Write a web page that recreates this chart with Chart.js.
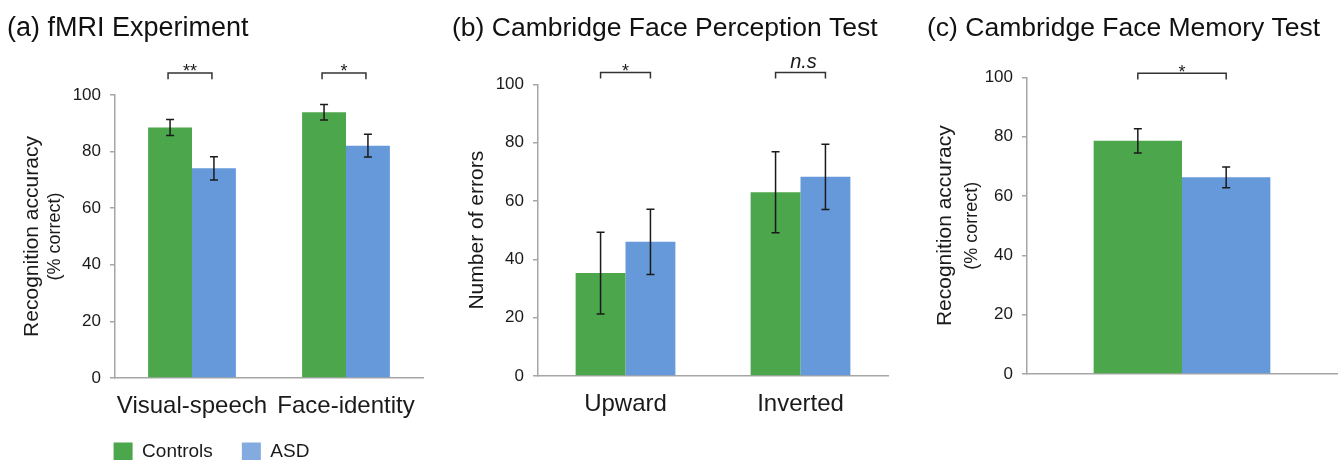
<!DOCTYPE html>
<html><head><meta charset="utf-8">
<script src="https://cdn.jsdelivr.net/npm/chart.js@4.4.1/dist/chart.umd.min.js"></script>
<style>
html,body{margin:0;padding:0;background:#fff;width:1341px;height:460px;overflow:hidden;position:relative;}
canvas{position:absolute;top:0;}
</style></head><body>
<canvas id="ca" width="440" height="480" style="left:0px"></canvas>
<canvas id="cb" width="455" height="460" style="left:445px"></canvas>
<canvas id="cc" width="436" height="460" style="left:905px"></canvas>
<script>
// ---------- data ----------
const seriesNames = ['Controls', 'ASD'];
const yTickValues = [0, 20, 40, 60, 80, 100];

const aTitle = '(a) fMRI Experiment';
const aCategories = ['Visual-speech', 'Face-identity'];
const aControls = [88.5, 93.9];
const aControlsErr = [2.8, 2.7];
const aASD = [74.1, 82.1];
const aASDErr = [4.1, 4.0];
const aSignificance = ['**', '*'];

const bTitle = '(b) Cambridge Face Perception Test';
const bCategories = ['Upward', 'Inverted'];
const bControls = [35.3, 63.0];
const bControlsErr = [14.0, 13.9];
const bASD = [46.0, 68.3];
const bASDErr = [11.2, 11.2];
const bSignificance = ['*', 'n.s'];

const cTitle = '(c) Cambridge Face Memory Test';
const cCategories = [''];
const cControls = [78.6];
const cControlsErr = [4.1];
const cASD = [66.3];
const cASDErr = [3.5];
const cSignificance = ['*'];

const accuracyTitle = 'Recognition accuracy';
const accuracyNote = '(% correct)';
const errorsTitle = 'Number of errors';

// ---------- style ----------
const FAMILY = "'Liberation Sans', Arial, Helvetica, sans-serif";
const GREEN = '#4ca64c';
const BLUE = '#6699d9';
const LEGEND_BLUE = '#84abe0';
const AXIS = '#a6a6a6';
const TEXT = '#1a1a1a';
Chart.defaults.font.family = FAMILY;
Chart.defaults.color = TEXT;

const errorBarPlugin = {
  id: 'errorBars',
  afterDatasetsDraw(chart) {
    const ctx = chart.ctx, y = chart.scales.y;
    ctx.save();
    ctx.strokeStyle = '#1a1a1a';
    ctx.lineWidth = 1.5;
    chart.data.datasets.forEach((ds, di) => {
      const meta = chart.getDatasetMeta(di);
      meta.data.forEach((bar, i) => {
        const v = ds.data[i], e = ds.errors[i];
        const yt = y.getPixelForValue(v + e), yb = y.getPixelForValue(v - e);
        const x = bar.x, hw = 4;
        ctx.beginPath();
        ctx.moveTo(x, yt); ctx.lineTo(x, yb);
        ctx.moveTo(x - hw, yt); ctx.lineTo(x + hw, yt);
        ctx.moveTo(x - hw, yb); ctx.lineTo(x + hw, yb);
        ctx.stroke();
      });
    });
    ctx.restore();
  }
};

const bracketPlugin = {
  id: 'brackets',
  afterDraw(chart, args, opts) {
    if (!opts.labels) return;
    const ctx = chart.ctx, y = chart.scales.y;
    const m0 = chart.getDatasetMeta(0), m1 = chart.getDatasetMeta(1);
    ctx.save();
    opts.labels.forEach((label, i) => {
      const x0 = m0.data[i].x + (opts.shift || 0), x1 = m1.data[i].x + (opts.shift || 0);
      const yt = y.getPixelForValue(opts.top), yl = y.getPixelForValue(opts.leg);
      ctx.strokeStyle = '#333';
      ctx.lineWidth = 1.5;
      ctx.beginPath();
      ctx.moveTo(x0, yl); ctx.lineTo(x0, yt); ctx.lineTo(x1, yt); ctx.lineTo(x1, yl);
      ctx.stroke();
      const italic = /[a-z]/i.test(label);
      ctx.fillStyle = TEXT;
      ctx.textAlign = 'center';
      ctx.textBaseline = 'alphabetic';
      if (italic) {
        ctx.font = 'italic 20px ' + FAMILY;
        ctx.fillText(label, (x0 + x1) / 2 + 3, yt - 4);
      } else {
        ctx.font = '18px ' + FAMILY;
        ctx.fillText(label, (x0 + x1) / 2, yt + 4.5);
      }
    });
    ctx.restore();
  }
};

const yNotePlugin = {
  id: 'yNote',
  afterDraw(chart, args, opts) {
    if (!opts.text) return;
    const ctx = chart.ctx, y = chart.scales.y;
    ctx.save();
    ctx.translate(opts.x, (y.top + y.bottom) / 2);
    ctx.rotate(-Math.PI / 2);
    ctx.font = opts.size + 'px ' + FAMILY;
    ctx.fillStyle = TEXT;
    ctx.textAlign = 'center';
    ctx.textBaseline = 'middle';
    ctx.fillText(opts.text, 0, 0);
    ctx.restore();
  }
};

// moves the legend box after layout so the x tick labels keep their full clip area
const legendNudgePlugin = {
  id: 'legendNudge',
  afterLayout(chart, args, opts) {
    const lg = chart.legend;
    if (!lg || !opts.dy) return;
    lg.top += opts.dy; lg.bottom += opts.dy;
    lg.left += opts.dx || 0; lg.right += opts.dx || 0;
  }
};

function datasets(ctrl, ctrlErr, asd, asdErr) {
  return [
    { label: seriesNames[0], data: ctrl, errors: ctrlErr, backgroundColor: GREEN, borderWidth: 0,
      categoryPercentage: 0.57, barPercentage: 1 },
    { label: seriesNames[1], data: asd, errors: asdErr, backgroundColor: BLUE, borderWidth: 0,
      categoryPercentage: 0.57, barPercentage: 1 }
  ];
}

function makeChart(id, p) {
  return new Chart(document.getElementById(id), {
    type: 'bar',
    data: { labels: p.labels, datasets: p.datasets },
    plugins: [errorBarPlugin, bracketPlugin, yNotePlugin, legendNudgePlugin],
    options: {
      responsive: false,
      animation: false,
      devicePixelRatio: 1,
      layout: { padding: { left: p.padLeft, right: p.padRight, top: 0, bottom: 0 } },
      plugins: {
        tooltip: { enabled: false },
        title: {
          display: true, text: p.title, align: 'start', color: '#111',
          font: { size: p.titleSize, weight: 'normal', lineHeight: 1.2 },
          padding: { top: 12.8, bottom: p.titleBottom }
        },
        legend: p.legend ? {
          display: true, position: 'bottom', align: 'center',
          labels: {
            boxWidth: 19, boxHeight: 19, padding: 29, color: TEXT,
            font: { size: 19 },
            generateLabels(chart) {
              const items = Chart.defaults.plugins.legend.labels.generateLabels(chart);
              items[1].fillStyle = LEGEND_BLUE;
              items.forEach(it => { it.lineWidth = 0; });
              return items;
            }
          }
        } : { display: false },
        legendNudge: p.legend ? { dy: -8.5, dx: -3.5 } : {},
        brackets: { labels: p.sig, top: p.brTop, leg: p.brLeg, shift: p.brShift || 0 },
        yNote: p.note ? { text: p.note, x: p.noteX, size: 18 } : {}
      },
      scales: {
        x: {
          offset: true,
          grid: { display: false, drawTicks: false },
          border: { display: true, color: AXIS, width: 1.5 },
          ticks: { font: { size: 24 }, color: TEXT, padding: 14, autoSkip: false, maxRotation: 0, minRotation: 0 },
          afterFit(s) { s.height = p.xHeight; }
        },
        y: {
          min: 0, max: 100,
          afterBuildTicks(s) { s.ticks = yTickValues.map(v => ({ value: v })); },
          grid: { drawOnChartArea: false, drawTicks: true, tickLength: 5, color: AXIS, lineWidth: 1.5 },
          border: { display: true, color: AXIS, width: 1.5 },
          ticks: { font: { size: 17 }, color: TEXT, padding: 9 },
          title: { display: true, text: p.yTitle, color: TEXT, font: { size: 21, lineHeight: 1.2 },
                   padding: { top: p.yTitlePad, bottom: 0 } },
          afterFit(s) { s.width = p.yWidth; }
        }
      }
    }
  });
}

makeChart('ca', {
  labels: aCategories,
  datasets: datasets(aControls, aControlsErr, aASD, aASDErr),
  title: aTitle, titleSize: 27, titleBottom: 49.8,
  padLeft: 7, padRight: 17, yWidth: 108, xHeight: 44,
  yTitle: accuracyTitle, yTitlePad: 12.4, note: accuracyNote, noteX: 55.5,
  legend: true,
  sig: aSignificance, brTop: 107.8, brLeg: 105.6, brShift: -2
});

makeChart('cb', {
  labels: bCategories,
  datasets: datasets(bControls, bControlsErr, bASD, bASDErr),
  title: bTitle, titleSize: 26.5, titleBottom: 39.8,
  padLeft: 7, padRight: 12, yWidth: 86, xHeight: 84,
  yTitle: errorsTitle, yTitlePad: 12.4,
  legend: false,
  sig: bSignificance, brTop: 104.1, brLeg: 102.0
});

makeChart('cc', {
  labels: cCategories,
  datasets: datasets(cControls, cControlsErr, cASD, cASDErr),
  title: cTitle, titleSize: 26.5, titleBottom: 32.8,
  padLeft: 22, padRight: 4, yWidth: 100, xHeight: 86,
  yTitle: accuracyTitle, yTitlePad: 5.4, note: accuracyNote, noteX: 67,
  legend: false,
  sig: cSignificance, brTop: 101.4, brLeg: 99.3
});
</script>
</body></html>
